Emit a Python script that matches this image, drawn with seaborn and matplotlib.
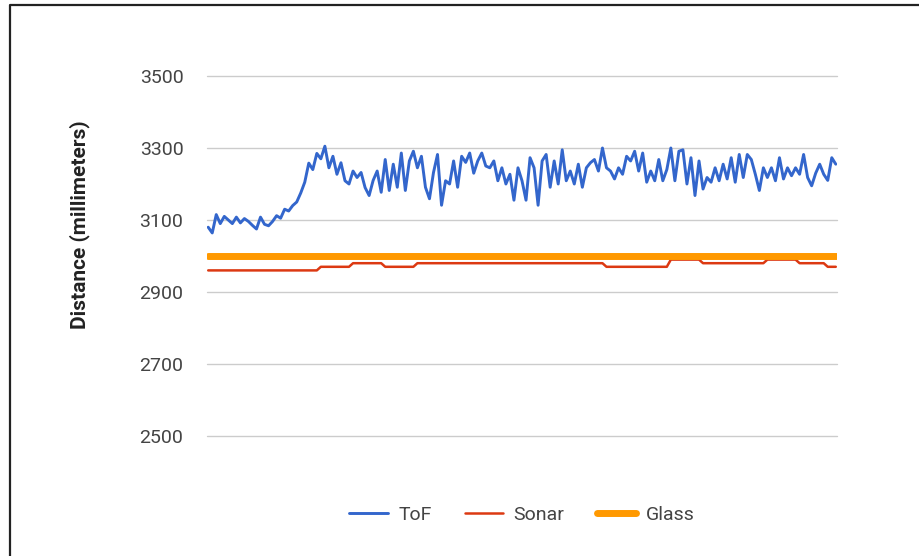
import numpy as np
import pandas as pd
import seaborn as sns
import matplotlib.pyplot as plt
from matplotlib.lines import Line2D

# ToF readings (mm), evenly spaced samples
tof_mm = [
    3080, 3064, 3115, 3090, 3110, 3100, 3090, 3108, 3092, 3104,
    3096, 3085, 3075, 3108, 3088, 3084, 3096, 3112, 3105, 3130,
    3125, 3140, 3150, 3175, 3205, 3258, 3240, 3285, 3270, 3305,
    3245, 3277, 3227, 3259, 3209, 3200, 3236, 3218, 3232, 3190,
    3168, 3210, 3236, 3177, 3268, 3182, 3255, 3191, 3286, 3182,
    3264,
    3291, 3245, 3277, 3191, 3159, 3232, 3282, 3141, 3209, 3200,
    3264, 3191, 3277, 3260, 3286, 3230, 3264, 3286, 3250, 3245,
    3264, 3209, 3245, 3200, 3227, 3155, 3245, 3209, 3155, 3273,
    3245, 3141, 3264, 3282, 3191, 3264, 3200, 3295, 3209, 3236,
    3200, 3255, 3191, 3245, 3259, 3268, 3236, 3300, 3245, 3236,
    3214, 3245, 3227, 3277, 3264,
    3291, 3236, 3286, 3205, 3236, 3209, 3268, 3209, 3240, 3300,
    3209, 3291, 3295, 3200, 3273, 3168, 3264, 3186, 3218, 3205,
    3245, 3209, 3255, 3214, 3273, 3205, 3282, 3218, 3282, 3268,
    3227, 3182, 3245, 3218, 3245, 3209, 3273, 3214, 3245, 3223,
    3245, 3227, 3282, 3218, 3195, 3230, 3255, 3227, 3210, 3273,
    3255,
]

# Sonar is a step signal: level (mm) and how many samples it holds
sonar_levels = [2960, 2970, 2980, 2970, 2980, 2970, 2990, 2980, 2990, 2980, 2970]
sonar_runs = [28, 8, 8, 8, 47, 16, 8, 16, 8, 7, 3]

glass_mm = 3000

y_ticks = [2500, 2700, 2900, 3100, 3300, 3500]

sonar_mm = np.repeat(sonar_levels, sonar_runs)
n = len(tof_mm)
df = pd.DataFrame({
    "sample": np.arange(n),
    "ToF": tof_mm,
    "Sonar": sonar_mm[:n],
    "Glass": [glass_mm] * n,
})

sns.set_style("white")
plt.rcParams["font.family"] = ["Roboto", "DejaVu Sans"]

fig = plt.figure(figsize=(9.19, 5.56), dpi=100)
ax = fig.add_axes([207 / 919, 1 - 436 / 556, 630 / 919, 360 / 556])

sns.lineplot(data=df, x="sample", y="ToF", ax=ax, color="#3366CC", lw=2.1, label="ToF")
sns.lineplot(data=df, x="sample", y="Sonar", ax=ax, color="#DC3912", lw=1.8, label="Sonar")
sns.lineplot(data=df, x="sample", y="Glass", ax=ax, color="#FF9900", lw=5, label="Glass")

ax.set_ylim(2500, 3500)
ax.set_xlim(-0.3, n - 0.7)
ax.set_yticks(y_ticks)
ax.set_yticklabels([str(t) for t in y_ticks])
ax.set_xticks([])
ax.set_xlabel("")
ax.set_ylabel("Distance (millimeters)", fontsize=15, fontweight="bold", color="#222222")
ax.yaxis.set_label_coords((90 - 207) / 630, (436 - 225) / 360)
ax.tick_params(axis="y", length=0, pad=17, labelsize=14, labelcolor="#444444")
ax.grid(axis="y", color="#cccccc", lw=1)
for gl in ax.get_ygridlines():
    gl.set_clip_on(False)
for s in ax.spines.values():
    s.set_visible(False)

handles, labels = ax.get_legend_handles_labels()
ax.get_legend().remove()
fig.legend(handles, labels, loc="center", bbox_to_anchor=(522 / 919, 1 - 515 / 556),
           ncol=3, frameon=False, fontsize=14, labelcolor="#444444",
           handlelength=2.0, handletextpad=0.5, columnspacing=1.7)

# the screenshot's frame (left and top edges only)
x0, y0 = 10 / 919, 1 - 5 / 556
fig.add_artist(Line2D([x0, x0, 1], [0, y0, y0], transform=fig.transFigure, color="#222222", lw=1.6))

fig.savefig("out.png", dpi=100)
